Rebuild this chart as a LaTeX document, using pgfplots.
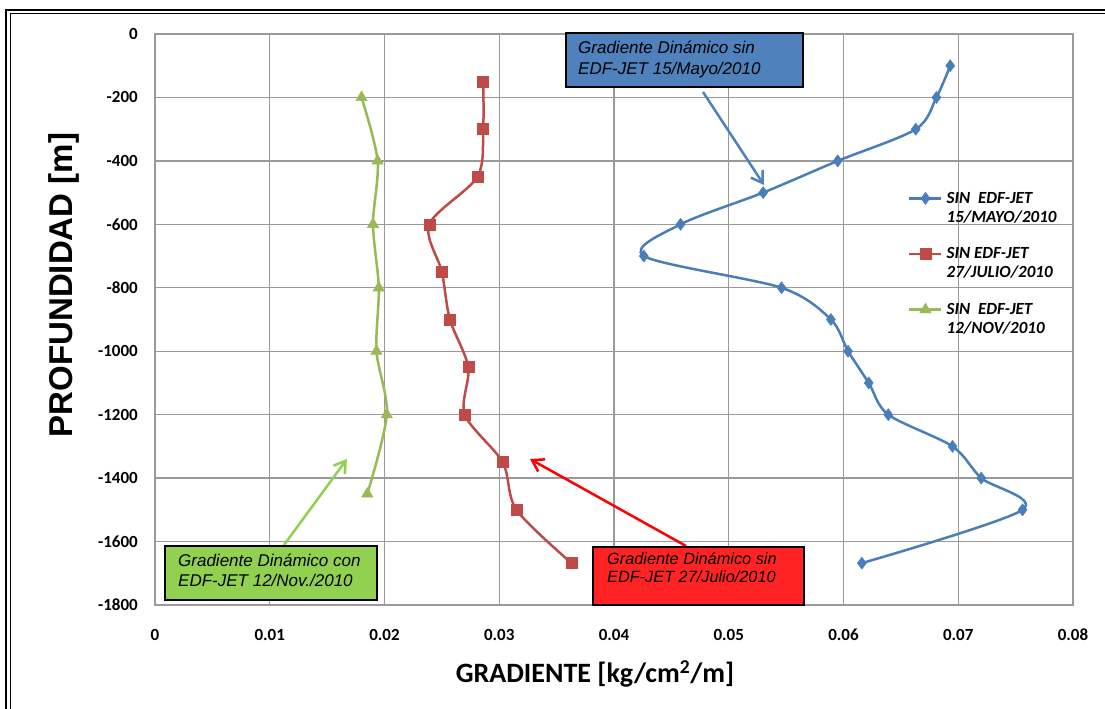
\documentclass[border=0pt]{standalone}
\usepackage{pgfplots}
\pgfplotsset{compat=1.18}
\usepackage{fontspec}
\setmainfont{Carlito}
\newfontfamily\arialf{Liberation Sans}
\usetikzlibrary{arrows.meta}
\definecolor{cblue}{HTML}{4A7EBB}
\definecolor{cred}{HTML}{BE4B48}
\definecolor{cgreen}{HTML}{98B954}
\definecolor{boxblue}{HTML}{4F81BD}
\definecolor{boxgreen}{HTML}{92D050}
\definecolor{boxred}{HTML}{FF2323}
\definecolor{gridc}{HTML}{9A9A9A}

\pgfplotstableread{
x y
0.0693 -100
0.0681 -200
0.0663 -300
0.0595 -400
0.0530 -500
0.0458 -600
0.0426 -700
0.0546 -800
0.0589 -900
0.0604 -1000
0.0622 -1100
0.0639 -1200
0.0695 -1300
0.0720 -1400
0.0756 -1500
0.0616 -1668
}\mayo
\pgfplotstableread{
x y
0.0286 -150
0.0286 -300
0.0281 -450
0.0239 -600
0.0250 -750
0.0257 -900
0.0273 -1050
0.0270 -1200
0.0303 -1350
0.0315 -1500
0.0363 -1668
}\julio
\pgfplotstableread{
x y
0.0180 -200
0.0194 -400
0.0190 -600
0.0195 -800
0.0193 -1000
0.0202 -1200
0.0185 -1450
}\nov

\begin{document}
\begin{tikzpicture}[x=1pt,y=1pt]
\path[use as bounding box] (0,0) rectangle (1105,709);
\fill[white] (0,0) rectangle (1105,709);
\draw[line width=2.5pt] (6,-5) -- (6,699) -- (1110,699);
\draw[line width=1.2pt] (10.5,-5) -- (10.5,695.5) -- (1110,695.5);
\begin{axis}[
  at={(155pt,104pt)}, anchor=south west, scale only axis,
  width=918pt, height=571pt,
  xmin=0, xmax=0.08, ymin=-1800, ymax=0,
  scaled x ticks=false, scaled y ticks=false,
  xtick={0,0.01,0.02,0.03,0.04,0.05,0.06,0.07,0.08},
  xticklabels={0,0.01,0.02,0.03,0.04,0.05,0.06,0.07,0.08},
  ytick={-1800,-1600,-1400,-1200,-1000,-800,-600,-400,-200,0},
  yticklabels={-1800,-1600,-1400,-1200,-1000,-800,-600,-400,-200,0},
  grid=major,
  major grid style={gridc, line width=1.3pt},
  axis line style={gridc, line width=1.3pt},
  major tick length=0pt,
  tick label style={font=\bfseries\fontsize{17}{20}\selectfont, inner sep=0pt},
  xticklabel style={yshift=-24pt},
  yticklabel style={xshift=-17pt},
  legend style={at={(0.8203,0.727)}, anchor=north west, draw=none, fill=none,
    inner sep=0pt, row sep=39pt, column sep=2pt,
    font=\bfseries\itshape\fontsize{17}{19}\selectfont},
  legend cell align=left,
  legend image code/.code={\draw[mark repeat=2,mark phase=2] plot coordinates {(0pt,0pt) (16pt,0pt) (32pt,0pt)};},
]
\addplot[cblue, line width=2.5pt, smooth, mark=diamond*, mark size=6pt, mark options={solid, line width=0.5pt}] table {\mayo};
\addlegendentry{\parbox[t]{140pt}{SIN\ \ EDF-JET\\15/MAYO/2010}}
\addplot[cred, line width=2.5pt, smooth, mark=square*, mark size=5.5pt, mark options={solid, line width=0.5pt}] table {\julio};
\addlegendentry{\parbox[t]{140pt}{SIN EDF-JET\\27/JULIO/2010}}
\addplot[cgreen, line width=2.5pt, smooth, mark=triangle*, mark size=6.5pt, mark options={solid, line width=0.5pt}] table {\nov};
\addlegendentry{\parbox[t]{140pt}{SIN\ \ EDF-JET\\12/NOV/2010}}
\end{axis}
% annotation arrows
\draw[boxblue, line width=2.5pt, -{Straight Barb[length=11pt, width=14pt]}] (703,617) -- (764,524);
\draw[boxgreen, line width=2.5pt, -{Straight Barb[length=11pt, width=14pt]}] (284,164) -- (347,250);
\draw[red, line width=2.5pt, -{Straight Barb[length=11pt, width=14pt]}] (686,163) -- (530,250);
% annotation boxes
\draw[fill=boxblue, line width=1.5pt] (566,622) rectangle (803,676);
\node[anchor=base west, inner sep=0pt, font=\arialf\itshape\fontsize{17}{21}\selectfont] at (578,655) {Gradiente Dinámico sin};
\node[anchor=base west, inner sep=0pt, font=\arialf\itshape\fontsize{17}{21}\selectfont] at (578,634) {EDF-JET 15/Mayo/2010};
\draw[fill=boxgreen, line width=1.5pt] (165,109) rectangle (377,163);
\node[anchor=base west, inner sep=0pt, font=\arialf\itshape\fontsize{17}{21}\selectfont] at (178,142) {Gradiente Dinámico con};
\node[anchor=base west, inner sep=0pt, font=\arialf\itshape\fontsize{17}{21}\selectfont] at (178,122) {EDF-JET 12/Nov./2010};
\draw[fill=boxred, line width=1.5pt] (593,104) rectangle (804,162);
\node[anchor=base west, inner sep=0pt, font=\arialf\itshape\fontsize{16.3}{21}\selectfont] at (607,144) {Gradiente Dinámico sin};
\node[anchor=base west, inner sep=0pt, font=\arialf\itshape\fontsize{16.3}{21}\selectfont] at (607,126) {EDF-JET 27/Julio/2010};
% axis titles
\node[font=\bfseries\fontsize{28}{32}\selectfont, inner sep=0pt] at (595,35) {GRADIENTE [kg/cm\textsuperscript{2}/m]};
\node[font=\arialf\bfseries\fontsize{33}{38}\selectfont, inner sep=0pt, rotate=90] at (64,424) {PROFUNDIDAD [m]};
\end{tikzpicture}
\end{document}
